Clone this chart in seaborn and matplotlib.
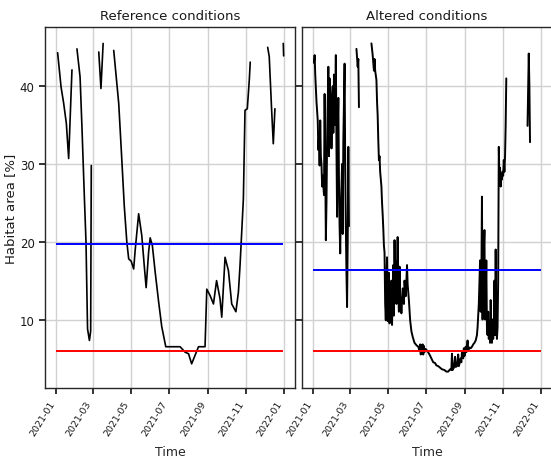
import numpy as np
import pandas as pd
import matplotlib
matplotlib.use("Agg")
import matplotlib.pyplot as plt
import matplotlib.dates as mdates
import seaborn as sns

# ---------------- data (day offsets from 2021-01-01, values in %) ----------------
nan = np.nan
start_date = "2021-01-01"

ref_days = [2, 7.5, 11.7, 16, 19.7, 25, nan,
            33, 38, 41, 45, 47.5, 50, 53, 55, 56, nan,
            68, 71.5, 75, nan,
            92, 100, 104, 109, 113, 116, 120, 124, 126.5, 132, 137, 141, 144, 148,
            150.5, 154, 158.5, 164, 169, 175.5, 198.5, 206.5, 212, 217, 222.5, 228,
            238.5, 241.3, 246.5, 252, 257, 262.5, 265.3, 270.6, 276, 281.3, 288,
            292, 294.6, 297.3, 300, 302.6, 306.3, 309.5, 311, nan,
            339, 341.5, 345.3, 348, 350.6, nan,
            364, 364.6]
ref_vals = [44.3, 39.9, 37.8, 35.2, 30.7, 42.1, nan,
            44.8, 41.2, 34.8, 25.5, 20.0, 8.8, 7.3, 8.5, 29.8, nan,
            44.4, 39.7, 45.5, nan,
            44.6, 37.8, 32.0, 24.5, 20.0, 17.8, 17.5, 16.5, 19.0, 23.6, 20.8, 16.9, 14.1, 18.7,
            20.5, 19.5, 16.1, 12.3, 9.1, 6.5, 6.5, 5.8, 5.6, 4.3, 5.4, 6.5,
            6.5, 13.9, 13.1, 12.0, 15.0, 12.7, 10.3, 18.0, 16.3, 12.0, 11.0,
            13.5, 16.9, 21.2, 25.5, 36.9, 37.1, 40.8, 43.1, nan,
            45.0, 43.8, 37.0, 32.6, 37.1, nan,
            45.5, 43.9]

alt_days = [1, 2, 3, 5, 7, 8, 9, 10, 11, 12, 13, 14, 15, 17, 18, 19, 20, 21, 22, 24, 25,
            26, 28, 29, 31, 32, 33, 34, 35, 36, 37, 38, 39, 40, 41, 42, 43, 44, 46, 47,
            48, 50, 51, 52, 53, 54, 55, 56, 57, nan,
            69, 71, 72, 73, nan,
            93, 95, 96, 97, 98, 99, 101, 102, 103, 104, 105, 106, 107, 109, 110, 111,
            112, 113, 114, 115, 116, 117, 118, 119, 120, 121, 122, 123, 124, 125, 126,
            127, 128, 129, 130, 131, 132, 133, 134, 135, 136, 137, 138, 139, 140, 141,
            143, 145, 146, 148, 150, 151, 153, 155, 157, 159, 162, 165, 168, 170, 171,
            172, 173, 174, 175, 176, 177, 178, 180, 183, 186, 189, 192, 195, 197, 200,
            203, 206, 210, 213, 216, 219, 221, 222, 223, 225, 227, 228, 230, 232, 233,
            234, 236, 237, 238, 240, 241, 242, 244, 245, 247, 248, 250, 252, 254, 256,
            258, 260, 262, 263, 264, 265, 266, 267, 268, 269, 270, 271, 272, 273, 274,
            275, 276, 277, 278, 279, 280, 281, 282, 283, 284, 285, 286, 287, 288, 289,
            290, 291, 292, 293, 294, 295, 296, 297, 298, 299, 300, 301, 302, 303, 304,
            305, 306, 307, 308, 309, nan,
            343, 345, 346, 347]
alt_vals = [43.0, 44.0, 41.5, 38.0, 35.6, 31.8, 33.5, 29.8, 35.6, 31.0, 30.0, 27.1, 28.5,
            26.0, 39.0, 30.0, 20.2, 25.0, 33.0, 42.5, 31.0,
            41.0, 38.0, 32.0, 40.0, 34.0, 41.5, 35.0, 38.0, 44.0, 32.0, 23.2, 34.0, 38.5,
            28.0, 22.0, 18.5, 24.0, 30.0, 21.0,
            33.0, 42.9, 30.0, 22.0, 16.0, 11.6, 20.0, 32.2, 22.0, nan,
            44.8, 42.5, 43.5, 37.3, nan,
            45.5, 44.0, 43.0, 42.0, 43.5, 42.0, 40.8, 38.0, 36.2, 33.0, 30.5, 31.0, 29.0,
            27.1, 25.0, 23.5,
            21.7, 19.5, 18.6, 12.0, 9.9, 14.0, 18.0, 9.8, 13.0, 16.0, 9.5, 12.0, 11.3,
            15.0, 9.3,
            13.0, 17.0, 10.5, 20.2, 14.0, 17.5, 12.0, 16.5, 20.6, 13.5, 11.0, 16.8, 13.0,
            12.5, 10.8,
            14.0, 12.0, 15.0, 13.0, 17.0, 14.5, 12.5, 9.9, 8.5, 7.8, 7.0, 6.7, 6.5, 6.0,
            6.8,
            5.5, 6.7, 5.6, 6.8, 5.5, 6.6, 5.8, 6.2, 5.9, 5.5, 5.0, 4.5, 4.4, 4.1, 4.0,
            3.8, 3.6, 3.5, 3.3, 3.3, 3.6, 3.5, 5.6, 3.5, 3.8, 5.2, 3.9, 4.0, 5.5, 4.0,
            4.3, 5.0, 4.5, 5.8, 5.0, 6.3, 5.3, 6.5, 5.8, 7.3, 6.0, 6.4, 6.3, 6.5, 6.8,
            7.0, 7.3, 8.0, 9.0, 10.5, 12.0, 15.0, 17.6, 11.0, 14.0, 25.8, 10.0, 16.0,
            19.0, 21.5,
            10.0, 12.5, 17.6, 9.0, 8.0, 11.0, 7.5, 9.5, 7.0, 12.5, 8.0, 7.0, 10.0, 7.5,
            9.0,
            15.0, 8.0, 19.0, 10.0, 7.5, 9.0, 15.0, 32.2, 28.0, 29.5, 27.1, 28.5, 28.0,
            29.0, 28.5,
            30.5, 29.0, 31.0, 35.0, 41.0, nan,
            34.9, 44.2, 40.0, 32.8]

# horizontal reference levels
line_span_days = [0, 364]
ref_mean = 19.7
alt_mean = 16.4
threshold = 6.0

titles = ["Reference conditions", "Altered conditions"]
ylabel = "Habitat area [%]"
xlabel = "Time"

# ---------------- helpers ----------------
def to_frame(days, vals):
    df = pd.DataFrame({"day": days, "val": vals})
    df["seg"] = df["val"].isna().cumsum()
    df = df.dropna()
    df["date"] = pd.Timestamp(start_date) + pd.to_timedelta(df["day"], unit="D")
    return df

span = pd.Timestamp(start_date) + pd.to_timedelta(line_span_days, unit="D")

# ---------------- style ----------------
sns.set_theme(style="whitegrid")
plt.rcParams.update({
    "font.family": ["DejaVu Sans"],
    "axes.edgecolor": "0.15",
    "axes.linewidth": 1.0,
    "grid.color": "0.82",
    "grid.linewidth": 1.0,
    "xtick.bottom": True,
    "ytick.left": True,
    "xtick.major.size": 4,
    "ytick.major.size": 4,
    "xtick.color": "0.1",
    "ytick.color": "0.1",
})
fs_title, fs_tick, fs_xtick, fs_xlab = 9.5, 8.5, 6.8, 9

fig = plt.figure(figsize=(5.51, 4.64), dpi=100)
ax1 = fig.add_axes([0.0817, 0.1616, 0.4537, 0.7780])
ax2 = fig.add_axes([0.5481, 0.1616, 0.4537, 0.7780], sharey=ax1)

panels = [(ax1, ref_days, ref_vals, ref_mean, 1.2), (ax2, alt_days, alt_vals, alt_mean, 1.4)]
for (ax, d, v, m, lw), title in zip(panels, titles):
    df = to_frame(d, v)
    sns.lineplot(data=df, x="date", y="val", units="seg", estimator=None,
                 color="black", linewidth=lw, ax=ax)
    ax.hlines(m, span[0], span[1], color="blue", linewidth=1.4, zorder=3)
    ax.hlines(threshold, span[0], span[1], color="red", linewidth=1.4, zorder=3)
    ax.set_title(title, fontsize=fs_title, color="0.1")
    ax.set_xlabel(xlabel, fontsize=fs_xlab, color="0.15", labelpad=6)
    ax.set_ylabel("")
    ax.xaxis.set_major_locator(mdates.MonthLocator(bymonth=[1, 3, 5, 7, 9, 11]))
    ax.xaxis.set_major_formatter(mdates.DateFormatter("%Y-%m"))
    ax.tick_params(axis="x", labelsize=fs_xtick, rotation=58)
    ax.tick_params(axis="y", labelsize=fs_tick)
    for lab in ax.get_xticklabels():
        lab.set_ha("right")
    for s in ax.spines.values():
        s.set_visible(True)

ax1.set_ylabel(ylabel, fontsize=9.5, color="0.1", labelpad=2)
ax2.tick_params(axis="y", labelleft=False)
ax2.spines["right"].set_visible(False)
ax1.set_yticks([10, 20, 30, 40])

fig.savefig("out.png", dpi=100)
